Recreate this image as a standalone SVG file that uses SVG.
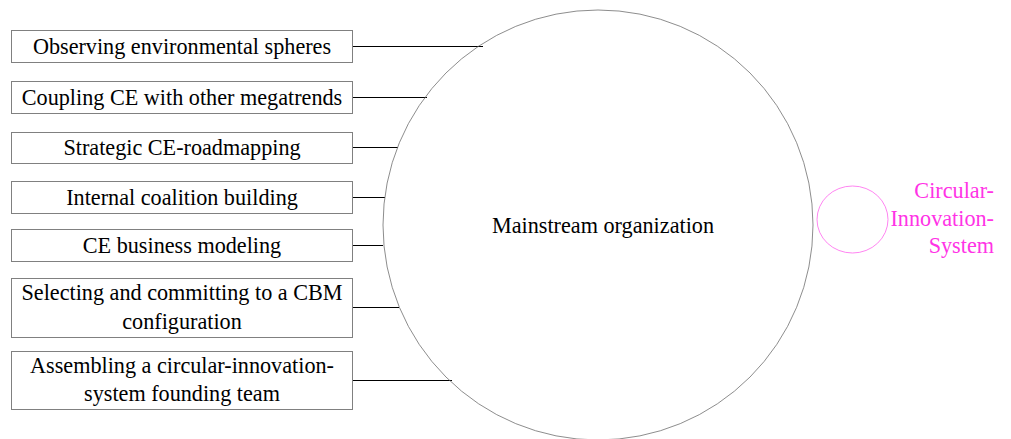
<svg xmlns="http://www.w3.org/2000/svg" width="1011" height="439" viewBox="0 0 1011 439">
<style>
.box{fill:#fff;stroke:#808080;stroke-width:1}
.t{font-family:"Liberation Serif",serif;font-size:22.2px;fill:#000;text-anchor:middle}
.m{font-family:"Liberation Serif",serif;font-size:22.2px;fill:#ff33e6;text-anchor:end}
.c{stroke:#000;stroke-width:1;fill:none}
</style>
<rect width="1011" height="439" fill="#fff"/>
<g id="connectors">
<line class="c" x1="352" y1="46.5" x2="483" y2="46.5"/>
<line class="c" x1="352" y1="97.5" x2="427" y2="97.5"/>
<line class="c" x1="352" y1="147.5" x2="398" y2="147.5"/>
<line class="c" x1="352" y1="197.5" x2="385" y2="197.5"/>
<line class="c" x1="352" y1="245.5" x2="383" y2="245.5"/>
<line class="c" x1="352" y1="307.5" x2="399" y2="307.5"/>
<line class="c" x1="352" y1="380.5" x2="452" y2="380.5"/>
</g>
<g id="mainstream">
<circle cx="598" cy="225" r="215" fill="none" stroke="#707070" stroke-width="0.8"/>
<text class="t" x="603" y="233">Mainstream organization</text>
</g>
<g id="cis">
<ellipse cx="852.5" cy="219.5" rx="35.5" ry="33.5" fill="none" stroke="#ff66ee" stroke-width="0.8"/>
<text class="m" x="994" y="198">Circular-</text>
<text class="m" x="994" y="226">Innovation-</text>
<text class="m" x="994" y="253">System</text>
</g>
<g id="n1"><rect class="box" x="11.5" y="30.5" width="341" height="32"/><text class="t" x="182" y="54">Observing environmental spheres</text></g>
<g id="n2"><rect class="box" x="11.5" y="81.5" width="341" height="32"/><text class="t" x="182" y="105">Coupling CE with other megatrends</text></g>
<g id="n3"><rect class="box" x="11.5" y="132.5" width="341" height="31"/><text class="t" x="182" y="155">Strategic CE-roadmapping</text></g>
<g id="n4"><rect class="box" x="11.5" y="181.5" width="341" height="32"/><text class="t" x="182" y="205">Internal coalition building</text></g>
<g id="n5"><rect class="box" x="11.5" y="229.5" width="341" height="32"/><text class="t" x="182" y="253">CE business modeling</text></g>
<g id="n6"><rect class="box" x="11.5" y="278.5" width="341" height="59"/><text class="t" x="182" y="300">Selecting and committing to a CBM</text><text class="t" x="182" y="329">configuration</text></g>
<g id="n7"><rect class="box" x="11.5" y="351.5" width="341" height="58"/><text class="t" x="182" y="373">Assembling a circular-innovation-</text><text class="t" x="182" y="401">system founding team</text></g>
</svg>
